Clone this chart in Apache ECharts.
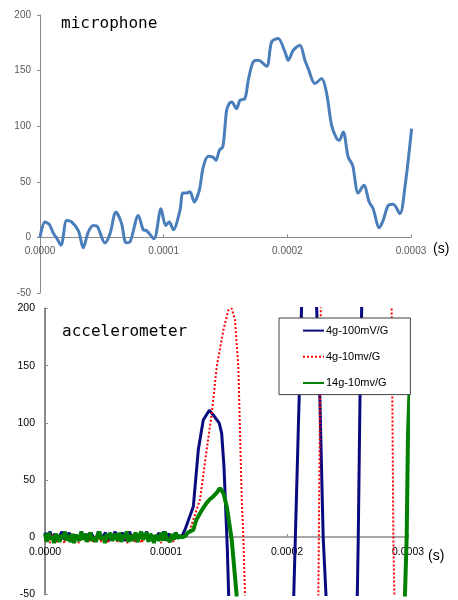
<!DOCTYPE html>
<html><head><meta charset="utf-8">
<script src="https://cdn.jsdelivr.net/npm/echarts@6/dist/echarts.min.js"></script>
<style>html,body{margin:0;padding:0;background:#fff}#c{width:458px;height:600px}</style>
</head><body><div id="c"></div>
<script>
// ---- tick labels ----
const xTickLabels = ['0.0000', '0.0001', '0.0002', '0.0003'];
const yMin = -50, yMax = 200, yStep = 50;
const xMinUs = 0, xMaxUs = 300, xStepUs = 100; // time in microseconds

// ---- microphone (time in µs, value) ----
const micTime = [0,4.0,7.5,10.8,13.5,17.0,21.6,25.6,31.0,35.0,39.0,43.1,46.3,52.5,56.6,61.4,66.0,69.5,72.8,79.5,83.5,86.3,92.2,97.8,101.6,104.5,107.8,113.2,115.4,118.6,121.3,124.7,128.8,132.0,136.1,140.1,142.3,145.0,147.7,149.0,150.9,153.0,155.0,159.0,161.7,165.7,168.4,172.4,176.5,183.3,187.3,192.6,198.1,200.7,204.8,210.2,214.2,216.9,222.3,227.7,231.8,235.8,239.9,242.0,245.2,249.2,252.8,257.3,261.9,266.2,269.4,274.3,277.5,281.6,285.6,291.0,295.1,300.5];
const micValue = [0,13.8,11.7,3.6,-0.6,-7,15.3,14,6,-9.3,4.8,10.8,10,-5,3.3,22.8,12.3,-4.8,-4,19.8,6.9,6,-1.2,25.8,10.8,13.8,6.9,24.3,39.9,40,41,31.8,42.3,63.3,72.9,72,69.3,78.3,81.3,91.8,114.3,120.3,121.8,115.8,123.3,124.8,141.3,157.8,159.3,153.9,175.8,178.9,166.8,159.3,168.3,172.8,159.3,151.8,138.3,142.8,129.3,100.8,88.8,87.3,94.8,72.3,64.8,39.9,46.8,31.8,25.8,8.7,15.3,28.8,29.7,21.3,45.3,97.8];

// ---- accelerometer baseline (pre-trigger noise) ----
const baseTime2 = [0,2,4,6,8,10,12,14,16,18,20,22,24,26,28,30,32,34,36,38,40,42,44,46,48,50,52,54,56,58,60,62,64,66,68,70,72,74,76,78,80,82,84,86,88,90,92,94,96,98,100,102,104,106,108,110];
const blueBase = [4,-2,5,-1,3,-3,1,5,-2,0, 4,-4,2,1,-3,5,-1,3,-2,4, 0,-3,5,-2,1,4,-4,3,-1,5, -2,2,4,-3,0,5,-2,3,-4,1, 4,-1,5,-3,2,0,-2,4,-1,5, -3,3,1,-2,4,1];
const redBase  = [-3,1,-5,2,-1,-4,0,2,-5,1, -3,3,-4,0,-5,2,-1,1,-4,2, -5,0,2,-4,1,-3,-5,3,-1,0, -4,2,-2,1,-5,0,3,-4,1,-1, -5,2,0,-3,3,-4,1,-1,-5,2, 0,-3,1,-4,2,0];
const baseTime15 = [0,1.5,3,4.5,6,7.5,9,10.5,12,13.5,15,16.5,18,19.5,21,22.5,24,25.5,27,28.5,30,31.5,33,34.5,36,37.5,39,40.5,42,43.5,45,46.5,48,49.5,51,52.5,54,55.5,57,58.5,60,61.5,63,64.5,66,67.5,69,70.5,72,73.5,75,76.5,78,79.5,81,82.5,84,85.5,87,88.5,90,91.5,93,94.5,96,97.5,99,100.5,102,103.5,105,106.5,108,109.5,111];
const greenBase = [3,-4,4,-2,1,-5,3,0,-4,2, -1,5,-3,2,-4,3,-5,2,0,-3, 5,-2,3,-4,1,4,-3,0,-4,2, 5,-2,1,-5,3,-1,4,-3,0,3, -3,4,-4,2,-1,5,-4,2,-3,1, 4,-4,1,5,-2,-1,4,-4,3,0, -5,2,1,-3,4,-3,5,-1,0,-4, 3,-2,4,-1,1];

// ---- accelerometer event parts ----
const blueTime  = [113.2,115.7,122.6,126.7,130.8,135.8,139.1,144.0,146.0,147.9,149.6,150.7,151.8,160,180,198,205.6,206.9,210.0,212.0,216,220,224.5,227.2,229.9,232.2,240,250,258.1,258.9,260.3,261.7,270,300];
const blueValue = [1,6.7,27,76.5,102.6,111,107,99.7,91,62,18.3,-10.7,-51,-200,-320,-220,-50,0,120,200,330,330,200,120,0,-50,-250,-260,-50,0,120,200,500,700];
const redTime   = [114,117.4,119.8,128.1,133.6,137.8,141.9,147.4,151.5,154.3,157.0,159.8,161.2,162.6,163.9,165.3,180,205,222,225.9,227.3,227.9,235,270,283,286.5,287.9,288.7,295,300];
const redValue  = [1,3,6.7,33,76.5,108,149,181,198.5,200,190,149,91,33,1,-51,-300,-400,-200,-50,120,200,600,700,450,200,0,-50,-300,-450];
const greenTime = [113,115.7,118,122.6,125,128.1,131,133.6,136,139.1,142,144.6,147.4,150.2,154.3,158.4,180,250,290,297.5,298.9,300,302];
const greenValue= [0,1,4,6.7,15,21,26,30,33,35.7,39,43,38.7,27,-2,-51,-250,-300,-200,-50,0,90,150];

const seriesNames = ['4g-100mV/G', '4g-10mv/G', '14g-10mv/G'];

function pairs(ts, vs) { return ts.map((t, i) => [t, vs[i]]); }
const micData = pairs(micTime, micValue);
const blueData = pairs(baseTime2, blueBase).concat(pairs(blueTime, blueValue));
const redData = pairs(baseTime2, redBase).concat(pairs(redTime, redValue));
const greenData = pairs(baseTime15, greenBase).concat(pairs(greenTime, greenValue));

const chart = echarts.init(document.getElementById('c'), null, {renderer: 'canvas'});

// grid geometry
const g0 = {left: 40, top: 15, width: 371, height: 278};
const g1 = {left: 45, top: 308.5, width: 363, height: 287};
// distance from grid bottom up to the y=0 line
function zeroOffset(g) { return -g.height * (0 - yMin) / (yMax - yMin); }

function xAxisCfg(gi, g, color, fontSize, margin, lineW) {
  return {
    gridIndex: gi, type: 'value', min: xMinUs, max: xMaxUs, interval: xStepUs,
    offset: zeroOffset(g),
    axisLine: {show: true, onZero: false, lineStyle: {color: '#8a8a8a', width: lineW}},
    axisTick: {show: true, inside: true, length: 3, lineStyle: {color: '#8a8a8a'}},
    splitLine: {show: false},
    axisLabel: {formatter: v => xTickLabels[Math.round((v - xMinUs) / xStepUs)], color: color,
      fontSize: fontSize, margin: margin, fontFamily: 'Liberation Sans'}
  };
}
function yAxisCfg(gi, color, fontSize, margin, inside, lineW) {
  return {
    gridIndex: gi, type: 'value', min: yMin, max: yMax, interval: yStep,
    axisLine: {show: true, onZero: false, lineStyle: {color: '#8a8a8a', width: lineW}},
    axisTick: {show: true, inside: inside, length: 3, lineStyle: {color: '#8a8a8a'}},
    splitLine: {show: false},
    axisLabel: {color: color, fontSize: fontSize, margin: margin, fontFamily: 'Liberation Sans'}
  };
}

chart.setOption({
  animation: false,
  backgroundColor: '#ffffff',
  grid: [g0, g1],
  xAxis: [xAxisCfg(0, g0, '#595959', 10, 9, 1), xAxisCfg(1, g1, '#000000', 10.5, 10, 1.5)],
  yAxis: [yAxisCfg(0, '#595959', 10, 9, false, 1), yAxisCfg(1, '#000000', 10.5, 10, true, 2)],
  legend: {
    data: seriesNames, orient: 'vertical', left: 279, top: 318,
    itemWidth: 21, itemHeight: 14, itemGap: 15,
    padding: [7, 22, 6, 23],
    backgroundColor: '#ffffff', borderColor: '#404040', borderWidth: 1,
    itemStyle: {opacity: 0},
    textStyle: {fontSize: 11, color: '#000', fontFamily: 'Liberation Sans', padding: [0, 0, 0, -3]}
  },
  graphic: [
    {type: 'text', left: 61, top: 16, style: {text: 'microphone', font: '16px "DejaVu Sans Mono"', fill: '#000'}},
    {type: 'text', left: 62, top: 324, style: {text: 'accelerometer', font: '16px "DejaVu Sans Mono"', fill: '#000'}},
    {type: 'text', left: 433, top: 242, style: {text: '(s)', font: '14px "Liberation Sans"', fill: '#000'}},
    {type: 'text', left: 428, top: 549, style: {text: '(s)', font: '14px "Liberation Sans"', fill: '#000'}}
  ],
  series: [
    {type: 'line', name: 'microphone', xAxisIndex: 0, yAxisIndex: 0, data: micData,
     symbol: 'none', smooth: 0.3, clip: true,
     lineStyle: {color: '#4a7ebb', width: 3}, itemStyle: {color: '#4a7ebb'}},
    {type: 'line', name: seriesNames[0], xAxisIndex: 1, yAxisIndex: 1, data: blueData,
     symbol: 'none', clip: true,
     lineStyle: {color: '#0a0a80', width: 3}, itemStyle: {color: '#0a0a80'}},
    {type: 'line', name: seriesNames[1], xAxisIndex: 1, yAxisIndex: 1, data: redData,
     symbol: 'none', clip: true,
     lineStyle: {color: '#ff0000', width: 2, type: [2, 2]}, itemStyle: {color: '#ff0000'}},
    {type: 'line', name: seriesNames[2], xAxisIndex: 1, yAxisIndex: 1, data: greenData,
     symbol: 'none', clip: true,
     lineStyle: {color: '#008000', width: 4}, itemStyle: {color: '#008000'}}
  ]
});
</script>
</body></html>
